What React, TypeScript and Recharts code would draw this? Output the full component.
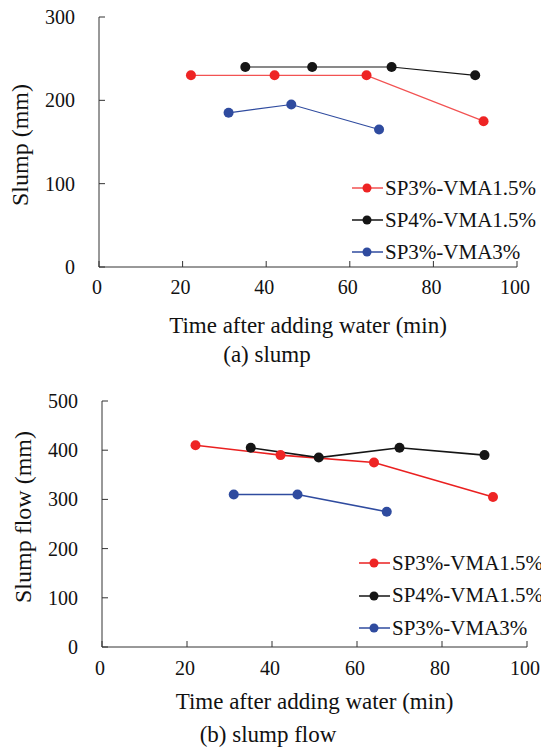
import React from "react";
import { LineChart, Line, XAxis, YAxis, Legend, Label } from "recharts";

// time after adding water (min) and measured values (mm)
const timeA = [22, 42, 64, 92];
const timeB = [35, 51, 70, 90];
const timeC = [31, 46, 67];

const slumpA = [230, 230, 230, 175];
const slumpB = [240, 240, 240, 230];
const slumpC = [185, 195, 165];

const flowA = [410, 390, 375, 305];
const flowB = [405, 385, 405, 390];
const flowC = [310, 310, 275];

const xTicks = [0, 20, 40, 60, 80, 100];
const slumpTicks = [0, 100, 200, 300];
const flowTicks = [0, 100, 200, 300, 400, 500];

const seriesNames = ["SP3%-VMA1.5%", "SP4%-VMA1.5%", "SP3%-VMA3%"];

const FONT = '"Liberation Serif", "Times New Roman", serif';
const AXIS = "#333333";
const RED = "#ee2424";
const BLACK = "#151515";
const BLUE = "#2f4b9f";

const zip = (xs: number[], ys: number[]) => xs.map((x, i) => ({ x, y: ys[i] }));

const makeXTick = (baseline: number) => (props: any) => {
  const { x, y, payload } = props;
  return (
    <g>
      <line x1={x} x2={x} y1={y} y2={y - 6} stroke={AXIS} strokeWidth={1} />
      <text x={x - 2} y={y + baseline} textAnchor="middle" fontFamily={FONT} fontSize={20} fill="#111">
        {payload.value}
      </text>
    </g>
  );
};

const renderYTick = (props: any) => {
  const { x, y, payload } = props;
  return (
    <g>
      <line x1={x} x2={x + 6} y1={y} y2={y} stroke={AXIS} strokeWidth={1} />
      <text x={x - 24} y={y + 7} textAnchor="end" fontFamily={FONT} fontSize={20} fill="#111">
        {payload.value}
      </text>
    </g>
  );
};

const textAt = (text: string, x: number | null, dy: number) => (props: any) => {
  const vb = props.viewBox;
  const cx = x === null ? vb.x + vb.width / 2 : x;
  return (
    <text x={cx} y={vb.y + dy} textAnchor="middle" fontFamily={FONT} fontSize={23} fill="#111">
      {text}
    </text>
  );
};

const yTitle = (text: string, x: number, y: number) => () => (
  <text
    x={x}
    y={y}
    transform={`rotate(-90 ${x} ${y})`}
    textAnchor="middle"
    dominantBaseline="central"
    fontFamily={FONT}
    fontSize={24}
    fill="#111"
  >
    {text}
  </text>
);

const legendContent = (colors: string[], lineColors: string[], spacing: number) => () => (
  <div style={{ fontFamily: FONT, fontSize: 21, color: "#111", whiteSpace: "nowrap" }}>
    {seriesNames.map((n, i) => (
      <div key={n} style={{ display: "flex", alignItems: "center", height: spacing }}>
        <svg width={32} height={12} style={{ marginRight: 1 }}>
          <line x1={0} x2={31} y1={6} y2={6} stroke={lineColors[i]} strokeWidth={1.5} />
          <circle cx={15} cy={6} r={4.5} fill={colors[i]} />
        </svg>
        <span>{n}</span>
      </div>
    ))}
  </div>
);

type PanelProps = {
  height: number;
  margin: { top: number; right: number; bottom: number; left: number };
  yWidth: number;
  xHeight: number;
  yTicks: number[];
  yMax: number;
  a: number[];
  b: number[];
  c: number[];
  redLine: string;
  lineWidth: number;
  yLabel: string;
  yLabelX: number;
  yLabelY: number;
  caption: string;
  captionX: number;
  base: [number, number, number];
  legendLeft: number;
  legendTop: number;
  legendSpacing: number;
};

function Panel(p: PanelProps) {
  return (
    <LineChart width={541} height={p.height} margin={p.margin}>
      <XAxis
        dataKey="x"
        type="number"
        domain={[0, 100]}
        ticks={xTicks}
        interval={0}
        height={p.xHeight}
        stroke={AXIS}
        tickLine={false}
        tickSize={0}
        tickMargin={0}
        tick={makeXTick(p.base[0])}
      >
        <Label content={textAt("Time after adding water (min)", null, p.base[1])} />
        <Label content={textAt(p.caption, p.captionX, p.base[2])} />
      </XAxis>
      <YAxis
        dataKey="y"
        type="number"
        domain={[0, p.yMax]}
        ticks={p.yTicks}
        interval={0}
        width={p.yWidth}
        stroke={AXIS}
        tickLine={false}
        tickSize={0}
        tickMargin={0}
        tick={renderYTick}
      >
        <Label content={yTitle(p.yLabel, p.yLabelX, p.yLabelY)} />
      </YAxis>
      <Line
        data={zip(timeA, p.a)}
        dataKey="y"
        name={seriesNames[0]}
        stroke={p.redLine}
        strokeWidth={p.lineWidth}
        dot={{ r: 5, fill: RED, stroke: RED, strokeWidth: 0 }}
        isAnimationActive={false}
      />
      <Line
        data={zip(timeB, p.b)}
        dataKey="y"
        name={seriesNames[1]}
        stroke={BLACK}
        strokeWidth={p.lineWidth}
        dot={{ r: 5, fill: BLACK, stroke: BLACK, strokeWidth: 0 }}
        isAnimationActive={false}
      />
      <Line
        data={zip(timeC, p.c)}
        dataKey="y"
        name={seriesNames[2]}
        stroke={BLUE}
        strokeWidth={p.lineWidth}
        dot={{ r: 5, fill: BLUE, stroke: BLUE, strokeWidth: 0 }}
        isAnimationActive={false}
      />
      <Legend
        layout="vertical"
        align="center"
        verticalAlign="middle"
        wrapperStyle={{ left: p.legendLeft, top: p.legendTop, width: "auto", height: "auto" }}
        content={legendContent([RED, BLACK, BLUE], [p.redLine, BLACK, BLUE], p.legendSpacing)}
      />
    </LineChart>
  );
}

export default function App() {
  return (
    <div
      style={{
        position: "absolute",
        left: 0,
        top: 0,
        width: 541,
        height: 748,
        overflow: "hidden",
        background: "#fff",
      }}
    >
      <Panel
        height={380}
        margin={{ top: 17, right: 24, bottom: 0, left: 0 }}
        yWidth={99}
        xHeight={113}
        yTicks={slumpTicks}
        yMax={300}
        a={slumpA}
        b={slumpB}
        c={slumpC}
        redLine="#f25252"
        lineWidth={1.2}
        yLabel="Slump (mm)"
        yLabelX={20}
        yLabelY={145}
        caption="(a) slump"
        captionX={267}
        base={[27, 66, 95]}
        legendLeft={352}
        legendTop={172}
        legendSpacing={32}
      />
      <Panel
        height={368}
        margin={{ top: 21, right: 14, bottom: 0, left: 0 }}
        yWidth={102}
        xHeight={101}
        yTicks={flowTicks}
        yMax={500}
        a={flowA}
        b={flowB}
        c={flowC}
        redLine="#ea2020"
        lineWidth={1.6}
        yLabel="Slump flow (mm)"
        yLabelX={23}
        yLabelY={137}
        caption="(b) slump flow"
        captionX={268}
        base={[28, 62, 95]}
        legendLeft={359}
        legendTop={167}
        legendSpacing={32.5}
      />
    </div>
  );
}
